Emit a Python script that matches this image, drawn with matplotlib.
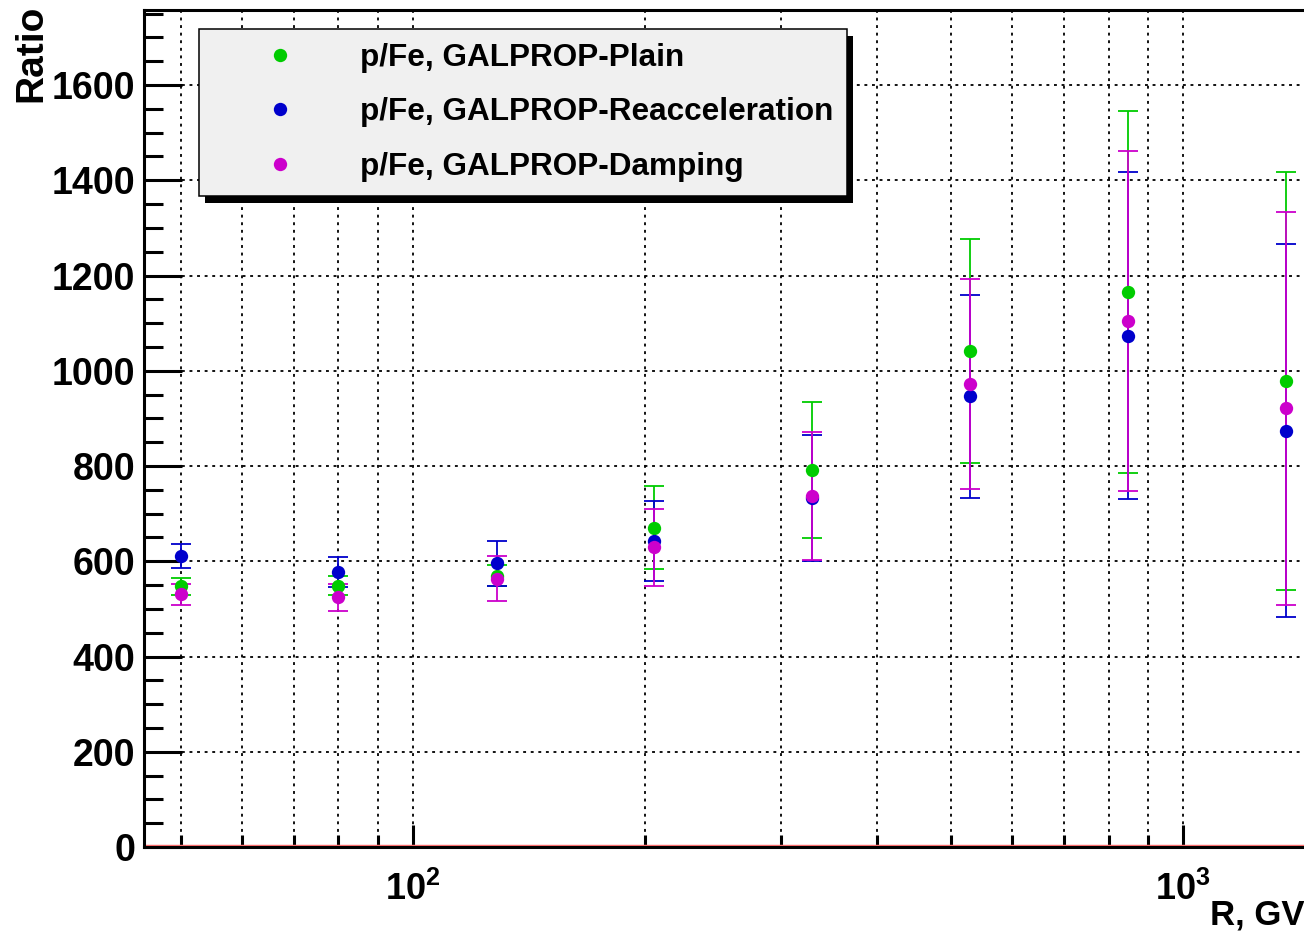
import matplotlib
matplotlib.use("Agg")
import matplotlib.pyplot as plt
from matplotlib.lines import Line2D
from matplotlib.patches import Rectangle
from matplotlib.transforms import IdentityTransform
from matplotlib.ticker import FixedLocator, MultipleLocator, NullFormatter

plt.rcParams["font.family"] = ["Liberation Sans", "DejaVu Sans"]
plt.rcParams["font.weight"] = "bold"
plt.rcParams["mathtext.fontset"] = "custom"
plt.rcParams["mathtext.rm"] = "Liberation Sans:bold"

# rigidity bins (GV) and p/Fe ratios with their errors
rigidity = [50, 80, 128.5, 205.5, 329.5, 528, 847, 1359]
plain = [547, 549, 570, 670, 792, 1042, 1166, 979]
plain_err = [18, 20, 23, 87, 143, 235, 380, 439]
reacc = [611, 577, 596, 643, 733, 946, 1074, 874]
reacc_err = [25, 31, 47, 84, 133, 214, 344, 392]
damp = [531, 524, 563, 629, 737, 972, 1105, 921]
damp_err = [22, 29, 47, 81, 135, 220, 357, 413]

labels = ["p/Fe, GALPROP-Plain", "p/Fe, GALPROP-Reacceleration", "p/Fe, GALPROP-Damping"]
colors = ["#00cc00", "#0000cc", "#cc00cc"]
x_major = [100, 1000]
x_major_labels = [r"$\mathrm{10^{2}}$", r"$\mathrm{10^{3}}$"]
x_minor = [50, 60, 70, 80, 90, 200, 300, 400, 500, 600, 700, 800, 900]

W, H = 1304, 932
fig = plt.figure(figsize=(W / 100, H / 100), dpi=100)
ax = fig.add_axes([144 / W, (H - 847) / H, (W - 144) / W, (847 - 10) / H])

series = list(zip([plain, reacc, damp], [plain_err, reacc_err, damp_err], colors))
for vals, errs, c in series:
    ax.errorbar(rigidity, vals, yerr=errs, fmt="none", ecolor=c,
                elinewidth=1.3, capsize=7, capthick=1.3, zorder=3)
for vals, errs, c in series:
    ax.plot(rigidity, vals, ls="none", marker="o", ms=9.6, mew=0, color=c, zorder=4)

ax.axhline(0, color="#ff7070", lw=3.2, zorder=2.4)

ax.set_xscale("log")
ax.set_xlim(10 ** 1.6508, 10 ** 3.1567)
ax.set_ylim(0, 1757.5)

ax.xaxis.set_major_locator(FixedLocator(x_major))
ax.set_xticklabels(x_major_labels)
ax.xaxis.set_minor_locator(FixedLocator(x_minor))
ax.xaxis.set_minor_formatter(NullFormatter())
ax.yaxis.set_major_locator(MultipleLocator(200))
ax.yaxis.set_minor_locator(MultipleLocator(50))

ax.tick_params(which="both", direction="in", width=2.2, top=False, right=False)
ax.tick_params(axis="x", which="major", length=15.8, labelsize=26, pad=18)
ax.tick_params(axis="x", which="minor", length=8.6)
ax.tick_params(axis="y", which="major", length=27, labelsize=27, pad=6.5)
ax.tick_params(axis="y", which="minor", length=13.7)

for s in ["left", "top", "bottom"]:
    ax.spines[s].set_linewidth(2.2)
ax.spines["right"].set_visible(False)

dots = (0, (1.6, 2.6))
ax.set_axisbelow(True)
ax.grid(True, axis="x", which="both", color="black", lw=1.3, linestyle=dots)
ax.grid(True, axis="y", which="major", color="black", lw=1.3, linestyle=dots)

ax.set_ylabel("Ratio", fontsize=28, fontweight="bold", loc="top")
ax.yaxis.set_label_coords(-0.0819, 1.006)
fig.text(1210 / W, 1 - 925 / H, "R, GV", fontsize=25, fontweight="bold",
         ha="left", va="baseline")

handles = [Line2D([], [], ls="none", marker="o", ms=9.6, mew=0, color=c) for c in colors]
leg = ax.legend(handles, labels, loc="upper left", bbox_to_anchor=(199 / W, 1 - 29 / H),
                bbox_transform=fig.transFigure, borderaxespad=0, fontsize=22.7,
                fancybox=False, framealpha=1, facecolor="#f0f0f0", edgecolor="black",
                borderpad=0.44, handlelength=4.25, handletextpad=0.42, labelspacing=0.78)
leg.get_frame().set_linewidth(1.1)

# solid black drop shadow behind the legend box
fig.canvas.draw()
bb = leg.get_window_extent()
ax.add_patch(Rectangle((bb.x0 + 6, bb.y0 - 7), bb.width, bb.height, transform=IdentityTransform(),
                       facecolor="black", edgecolor="none", zorder=4.9, clip_on=False))

fig.savefig("out.png", dpi=100)
